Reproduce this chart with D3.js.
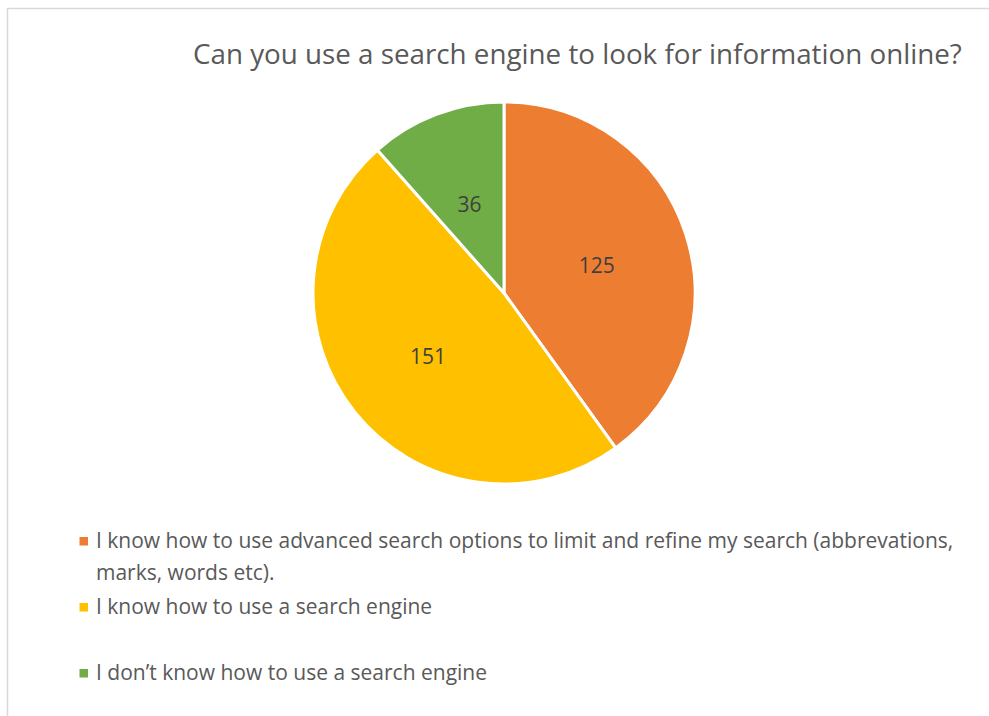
<!DOCTYPE html>
<html><head><meta charset="utf-8">
<script src="https://cdn.jsdelivr.net/npm/d3@7"></script>
<style>body{margin:0;background:#fff}svg{display:block}text{font-family:"Open Sans",sans-serif}</style>
</head><body>
<script>
const categories = [
  "I know how to use advanced search options to limit and refine my search (abbrevations, marks, words etc).",
  "I know how to use a search engine",
  "I don\u2019t know how to use a search engine"
];
const values = [125, 151, 36];
const colors = ["#ED7D31", "#FFC000", "#70AD47"];
const legendLines = [
  ["I know how to use advanced search options to limit and refine my search (abbrevations,", "marks, words etc)."],
  ["I know how to use a search engine"],
  ["I don\u2019t know how to use a search engine"]
];
const title = "Can you use a search engine to look for information online?";

const W = 989, H = 716;
const svg = d3.select("body").append("svg").attr("width", W).attr("height", H);

// chart frame
svg.append("rect").attr("x", 7.5).attr("y", 8.5).attr("width", W + 20).attr("height", H + 20)
  .attr("fill", "#fff").attr("stroke", "#d9d9d9").attr("stroke-width", 1.5);

function fit(sel, targetW) {
  const len = sel.node().getComputedTextLength();
  const fs = parseFloat(sel.attr("font-size"));
  sel.attr("font-size", fs * targetW / len);
  return fs * targetW / len;
}

const t = svg.append("text").attr("x", 193).attr("y", 64).attr("font-size", 26)
  .attr("fill", "#595959").text(title);
fit(t, 769);

const cx = 504, cy = 293, r = 191;
const pie = d3.pie().sort(null).value(d => d)(values);
const arc = d3.arc().innerRadius(0).outerRadius(r);
const labelArc = d3.arc().innerRadius(r * 0.51).outerRadius(r * 0.51);
const g = svg.append("g").attr("transform", `translate(${cx},${cy})`);
g.selectAll("path").data(pie).join("path")
  .attr("d", arc).attr("fill", (d, i) => colors[i])
  .attr("stroke", "#fff").attr("stroke-width", 3).attr("stroke-linejoin", "round");

const lbl = g.selectAll("text.lbl").data(pie).join("text").attr("class", "lbl")
  .attr("font-size", 20).attr("fill", "#404040").attr("text-anchor", "middle")
  .attr("dominant-baseline", "central")
  .text(d => d.data);
const l0 = lbl.filter((d, i) => i === 0);
const lfs = fit(l0, 36);
lbl.attr("font-size", lfs);
lbl.attr("transform", d => {
  const c = labelArc.centroid(d);
  return `translate(${c[0]},${c[1] + 2})`;
});

// legend
const legY = [548, 614, 680];
const lg = svg.append("g");
const first = lg.append("text").attr("x", 96).attr("y", legY[0]).attr("font-size", 20)
  .attr("fill", "#595959").text(legendLines[0][0]);
const lgfs = fit(first, 858);
legendLines.forEach((lines, i) => {
  lg.append("rect").attr("x", 79.5).attr("y", legY[i] - 11).attr("width", 8.5).attr("height", 8.5)
    .attr("fill", colors[i]);
  lines.forEach((ln, j) => {
    if (i === 0 && j === 0) return;
    lg.append("text").attr("x", 96).attr("y", legY[i] + j * 32).attr("font-size", lgfs)
      .attr("fill", "#595959").text(ln);
  });
});
</script>
</body></html>
